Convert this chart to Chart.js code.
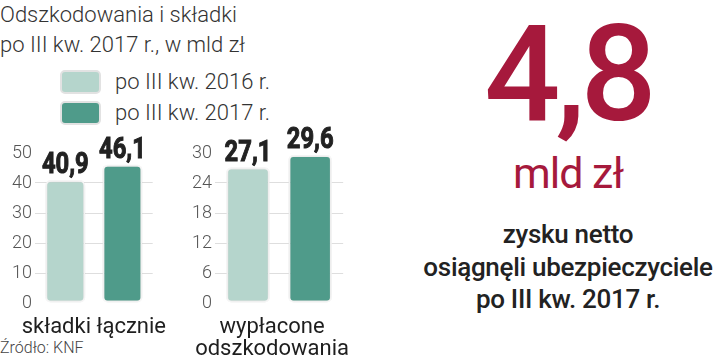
<!DOCTYPE html>
<html>
<head>
<meta charset="utf-8">
<script src="https://cdn.jsdelivr.net/npm/chart.js@4"></script>
<style>
    html, body { margin: 0; padding: 0; background: #fff; }
    body { width: 720px; height: 361px; position: relative; overflow: hidden; font-family: Roboto, "Noto Sans", sans-serif; }
    .title { position: absolute; left: 0; top: 0; font-size: 22px; font-weight: 300; color: #333; line-height: 30px; }
    .legend { position: absolute; left: 60px; top: 66px; font-size: 22px; font-weight: 300; color: #333; }
    .legend div { height: 31px; display: flex; align-items: center; }
    .legend span.sw { display: inline-block; width: 37px; height: 20px; border: 2px solid #e2e2e2; border-radius: 5px; margin-right: 14px; }
    .source { position: absolute; left: 0; top: 338px; font-size: 16px; font-weight: 300; color: #444; }
    .big { position: absolute; left: 420px; width: 296px; text-align: center; color: #a6193c; }
    .num { top: 9px; font-size: 134px; font-weight: 500; line-height: 132px; letter-spacing: -5px; }
    .unit { top: 149px; font-size: 43px; font-weight: 400; line-height: 48px; letter-spacing: -1px; }
    .note { position: absolute; left: 418px; width: 300px; top: 218px; text-align: center; font-size: 26px; font-weight: 500; color: #222; line-height: 32.5px; letter-spacing: -0.3px; }
    canvas { position: absolute; }
</style>
</head>
<body>
<div class="title">Odszkodowania i składki<br>po III kw. 2017 r., w mld zł</div>
<div class="legend" id="legend"></div>
<div class="source">Źródło: KNF</div>
<div class="big num">4,8</div>
<div class="big unit">mld zł</div>
<div class="note">zysku netto<br>osiągnęli ubezpieczyciele<br>po III kw. 2017 r.</div>

<div style="position:absolute;left:0;top:120px;width:175px;height:241px"><canvas id="premiumsChart"></canvas></div>
<div style="position:absolute;left:180px;top:120px;width:195px;height:241px"><canvas id="claimsChart"></canvas></div>

<script>
// Data
const seriesLabels = ["po III kw. 2016 r.", "po III kw. 2017 r."];
const seriesColors = ["#b5d5cc", "#4f9b8a"];

const premiumsCategory = ["składki łącznie"];
const premiums2016 = [40.9];
const premiums2017 = [46.1];
const premiumsTicks = [0, 10, 20, 30, 40, 50];

const claimsCategory = [["wypłacone", "odszkodowania"]];
const claims2016 = [27.1];
const claims2017 = [29.6];
const claimsTicks = [0, 6, 12, 18, 24, 30];

// Legend
const legend = document.getElementById("legend");
seriesLabels.forEach((label, i) => {
    const row = document.createElement("div");
    row.innerHTML = `<span class="sw" style="background:${seriesColors[i]}"></span>${label}`;
    legend.appendChild(row);
});

// Value labels above each bar (squeezed and thickened to look like a heavy condensed face)
const valueLabels = {
    id: "valueLabels",
    afterDatasetsDraw(chart) {
        const ctx = chart.ctx;
        chart.data.datasets.forEach((ds, di) => {
            chart.getDatasetMeta(di).data.forEach((bar, i) => {
                const txt = ds.data[i].toFixed(1).replace(".", ",");
                ctx.save();
                ctx.translate(bar.x, bar.y - 7);
                ctx.scale(0.82, 1);
                ctx.font = "bold 29px Roboto, sans-serif";
                ctx.fillStyle = "#222";
                ctx.strokeStyle = "#222";
                ctx.lineWidth = 1;
                ctx.textAlign = "center";
                ctx.textBaseline = "alphabetic";
                ctx.fillText(txt, 0, 0);
                ctx.strokeText(txt, 0, 0);
                ctx.restore();
            });
        });
    }
};

// Soft shadow under the bars
const barShadow = {
    id: "barShadow",
    beforeDatasetsDraw(chart) {
        chart.ctx.save();
        chart.ctx.shadowColor = "rgba(0,0,0,0.18)";
        chart.ctx.shadowBlur = 4;
    },
    afterDatasetsDraw(chart) {
        chart.ctx.restore();
    }
};

function makeChart(canvasId, categories, data2016, data2017, ticks, padRight, labelShift) {
    const max = ticks[ticks.length - 1];
    return new Chart(document.getElementById(canvasId), {
        type: "bar",
        data: {
            labels: categories,
            datasets: [data2016, data2017].map((d, i) => ({
                label: seriesLabels[i],
                data: d,
                backgroundColor: seriesColors[i],
                borderColor: "#fff",
                borderWidth: 2,
                borderRadius: 5,
                borderSkipped: false,
                categoryPercentage: 0.97,
                barPercentage: 0.7
            }))
        },
        options: {
            responsive: true,
            maintainAspectRatio: false,
            animation: false,
            layout: { padding: { top: 33, right: padRight, left: 0, bottom: 0 } },
            plugins: { legend: { display: false }, tooltip: { enabled: false } },
            scales: {
                x: {
                    grid: { display: false },
                    border: { display: false },
                    ticks: {
                        color: "#1e1e1e",
                        font: { family: "Roboto", size: 22, weight: 400, lineHeight: 1.0 },
                        padding: 5,
                        labelOffset: labelShift,
                        maxRotation: 0,
                        autoSkip: false
                    },
                    afterFit: s => { s.height = 58; }
                },
                y: {
                    min: 0,
                    max: max,
                    afterBuildTicks: s => { s.ticks = ticks.map(v => ({ value: v })); },
                    grid: {
                        drawTicks: false,
                        color: c => (c.tick.value === 0 || c.tick.value === max) ? "rgba(0,0,0,0)" : "#dedede"
                    },
                    border: { display: false },
                    ticks: {
                        color: "#555",
                        font: { family: "Roboto", size: 18, weight: 300 },
                        padding: 3
                    },
                    afterFit: s => { s.width = 35; }
                }
            }
        },
        plugins: [barShadow, valueLabels]
    });
}

makeChart("premiumsChart", premiumsCategory, premiums2016, premiums2017, premiumsTicks, 8, 0);
makeChart("claimsChart", claimsCategory, claims2016, claims2017, claimsTicks, 28, -7);
</script>
</body>
</html>
